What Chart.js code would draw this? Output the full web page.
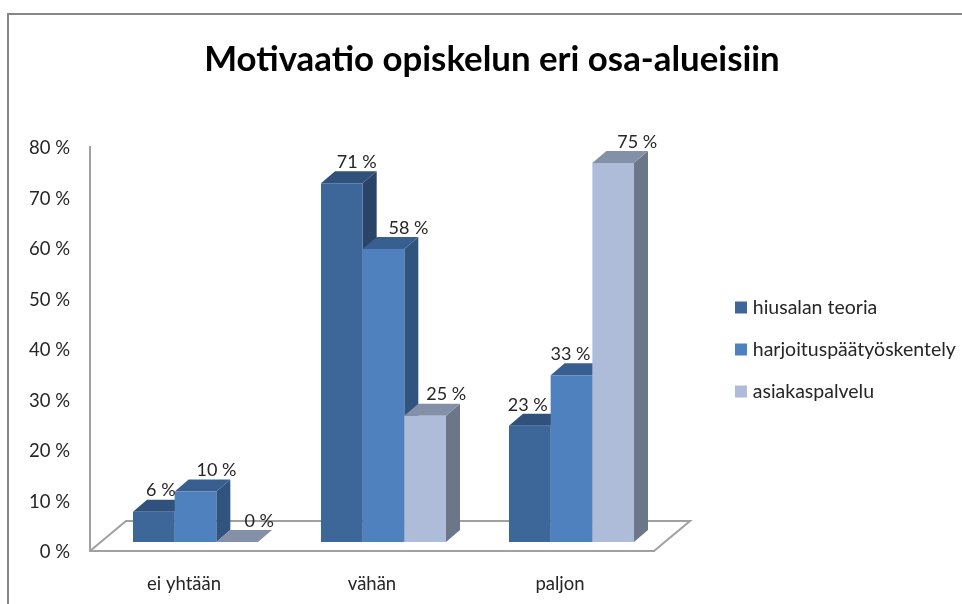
<!DOCTYPE html>
<html>
<head>
<meta charset="utf-8">
<style>
    html, body { margin: 0; padding: 0; background: #fff; overflow: hidden; }
    #frame { position: absolute; left: 7px; top: 13px; width: 955px; height: 591px; box-sizing: border-box;
             border-top: 2px solid #868686; border-left: 2px solid #868686; }
    #chart { position: absolute; left: 0; top: 0; }
</style>
<script src="https://cdn.jsdelivr.net/npm/chart.js@4"></script>
</head>
<body>
<div id="frame"></div>
<canvas id="chart" width="962" height="604"></canvas>
<script>
const categories = ['ei yhtään', 'vähän', 'paljon'];
const seriesNames = ['hiusalan teoria', 'harjoituspäätyöskentely', 'asiakaspalvelu'];
const hiusalanTeoria = [6, 71, 23];
const harjoitus = [10, 58, 33];
const asiakaspalvelu = [0, 25, 75];
const yTicks = [0, 10, 20, 30, 40, 50, 60, 70, 80];

const frontColors = ['#3e6799', '#4e81bd', '#aebcd9'];
const topColors = ['#30517c', '#385f8f', '#8490a8'];
const sideColors = ['#2a4467', '#31547f', '#6c7689'];

// 3d look: bars sit a bit inside the floor, depth goes up and to the right
const barShift = { x: 11.5, y: -9 };
const barDepth = { x: 14, y: -12 };
const floorDepth = { x: 36, y: -30 };
// label nudges per series / category, as in the original
const labelNudge = [[7, 15, -2], [21, 25, -1], [22, 21, 24]];

const font = 'Lato, sans-serif';
const axisColor = '#a0a0a0';
const textColor = '#262626';

function poly(ctx, color, pts) {
    ctx.fillStyle = color;
    ctx.beginPath();
    pts.forEach((p, i) => i ? ctx.lineTo(p[0], p[1]) : ctx.moveTo(p[0], p[1]));
    ctx.closePath();
    ctx.fill();
}

const depthPlugin = {
    id: 'depth',
    beforeInit(chart) {
        // fixed room for the legend column
        const fit = chart.legend.fit;
        chart.legend.fit = function () {
            fit.call(this);
            this.width = 308;
        };
    },
    afterLayout(chart) {
        const legend = chart.legend;
        legend.left = chart.chartArea.right + 85 - legend.options.labels.padding;
        legend.top += 28;
        legend.bottom += 28;
    },
    beforeDatasetsDraw(chart) {
        const { ctx, chartArea: a } = chart;
        ctx.save();
        ctx.strokeStyle = axisColor;
        ctx.lineWidth = 2;
        ctx.beginPath();
        ctx.moveTo(a.left, a.bottom);
        ctx.lineTo(a.left + floorDepth.x, a.bottom + floorDepth.y);
        ctx.lineTo(a.right + floorDepth.x, a.bottom + floorDepth.y);
        ctx.lineTo(a.right, a.bottom);
        ctx.stroke();
        ctx.restore();

        // first series first, the next one has to cover its side face
        chart.data.datasets.forEach((ds, i) => {
            const meta = chart.getDatasetMeta(i);
            ctx.save();
            ctx.translate(barShift.x, barShift.y);
            meta.data.forEach(bar => {
                const l = bar.x - bar.width / 2, r = bar.x + bar.width / 2;
                const dx = barDepth.x, dy = barDepth.y;
                poly(ctx, sideColors[i], [[r, bar.y], [r + dx, bar.y + dy], [r + dx, bar.base + dy], [r, bar.base]]);
                poly(ctx, topColors[i], [[l, bar.y], [l + dx, bar.y + dy], [r + dx, bar.y + dy], [r, bar.y]]);
            });
            meta.controller.draw();
            ctx.restore();
        });
        return false;
    },
    afterDraw(chart) {
        const { ctx } = chart;
        ctx.save();
        ctx.font = '18px ' + font;
        ctx.fillStyle = textColor;
        ctx.textAlign = 'center';
        ctx.textBaseline = 'middle';
        chart.data.datasets.forEach((ds, i) => {
            chart.getDatasetMeta(i).data.forEach((bar, j) => {
                ctx.fillText(ds.data[j] + ' %', bar.x + barShift.x + labelNudge[i][j], bar.y + barShift.y - 21);
            });
        });
        ctx.restore();
    }
};

const seriesData = [hiusalanTeoria, harjoitus, asiakaspalvelu];

new Chart(document.getElementById('chart').getContext('2d'), {
    type: 'bar',
    data: {
        labels: categories,
        datasets: seriesNames.map((name, i) => ({
            label: name,
            data: seriesData[i],
            backgroundColor: frontColors[i],
            borderWidth: 0
        }))
    },
    options: {
        responsive: false,
        animation: false,
        categoryPercentage: 0.665,
        barPercentage: 1,
        layout: { padding: { left: 22, top: 39 } },
        scales: {
            x: {
                grid: { display: false, drawTicks: false },
                border: { color: axisColor, width: 2 },
                ticks: { padding: 22, color: textColor, font: { family: font, size: 18.5 } },
                afterFit(scale) { scale.height = 53; }
            },
            y: {
                min: 0,
                max: 80,
                afterBuildTicks(scale) { scale.ticks = yTicks.map(v => ({ value: v })); },
                grid: { display: false, drawTicks: false },
                border: { color: axisColor, width: 2 },
                ticks: {
                    padding: 20,
                    labelOffset: 1.5,
                    color: textColor,
                    font: { family: font, size: 18.5 },
                    callback: v => v + ' %'
                },
                afterFit(scale) { scale.width = 68; }
            }
        },
        plugins: {
            title: {
                display: true,
                text: 'Motivaatio opiskelun eri osa-alueisiin',
                color: '#000',
                font: { family: font, size: 34.8, weight: 'bold' },
                padding: { top: 0, bottom: 66 }
            },
            legend: {
                display: true,
                position: 'right',
                labels: {
                    usePointStyle: true,
                    pointStyle: 'rect',
                    boxWidth: 4,
                    boxHeight: 12,
                    padding: 22.5,
                    color: textColor,
                    font: { family: font, size: 19.5 },
                    sort: (a, b) => a.datasetIndex - b.datasetIndex
                }
            },
            tooltip: { enabled: false }
        }
    },
    plugins: [depthPlugin]
});
</script>
</body>
</html>
